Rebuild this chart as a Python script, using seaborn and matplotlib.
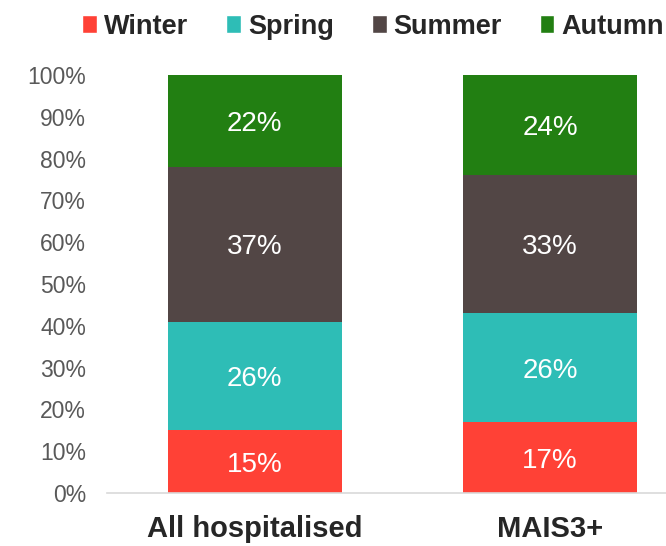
import pandas as pd
import seaborn as sns
import matplotlib.pyplot as plt
from matplotlib.patches import Patch

# data
groups = ['All hospitalised', 'MAIS3+']
seasons = ['Winter', 'Spring', 'Summer', 'Autumn']
winter = [15, 17]
spring = [26, 26]
summer = [37, 33]
autumn = [22, 24]

colors = {'Winter': '#FF4136', 'Spring': '#2EBDB6', 'Summer': '#524645', 'Autumn': '#227F12'}

sns.set_style('white')
plt.rcParams['font.family'] = ['Liberation Sans', 'DejaVu Sans']

df = pd.DataFrame({'group': groups, 'Winter': winter, 'Spring': spring,
                   'Summer': summer, 'Autumn': autumn})

fig = plt.figure(figsize=(6.66, 5.46), dpi=100)
ax = fig.add_axes([0.1607, 0.097, 0.8393, 0.7656])

# cumulative totals, drawn from the top layer down so they stack
cum = df[seasons].cumsum(axis=1)
for s in reversed(seasons):
    sns.barplot(x=df['group'], y=cum[s], color=colors[s], width=0.59,
                saturation=1, ax=ax, edgecolor='none')

# segment labels
for i in range(len(groups)):
    base = 0
    for s in seasons:
        v = df.loc[i, s]
        ax.text(i, base + v / 2, f'{v}%', ha='center', va='center_baseline',
                color='white', fontsize=20)
        base += v

ax.set_xlim(-0.5, 1.392)
ax.set_ylim(0, 100)
ax.set_yticks(range(0, 101, 10))
ax.set_yticklabels([f'{t}%' for t in range(0, 101, 10)], color='#595959', fontsize=16.5)
ax.set_xticks([0, 1])
ax.set_xticklabels(groups, fontsize=21, fontweight='bold', color='#262626')
ax.tick_params(axis='x', length=0, pad=16)
ax.tick_params(axis='y', length=0, pad=15)
ax.set_xlabel('')
ax.set_ylabel('')
for side in ['top', 'right', 'left']:
    ax.spines[side].set_visible(False)
ax.spines['bottom'].set_color('#D9D9D9')
ax.spines['bottom'].set_linewidth(1.2)

handles = [Patch(facecolor=colors[s], label=s) for s in seasons]
fig.legend(handles=handles, loc='upper left', bbox_to_anchor=(0.1155, 0.985),
           ncol=4, frameon=False, borderpad=0.2, borderaxespad=0,
           handlelength=0.55, handleheight=0.6,
           handletextpad=0.25, columnspacing=1.4,
           prop={'size': 19.5, 'weight': 'bold'}, labelcolor='#262626')

fig.savefig('out.png', dpi=100)
